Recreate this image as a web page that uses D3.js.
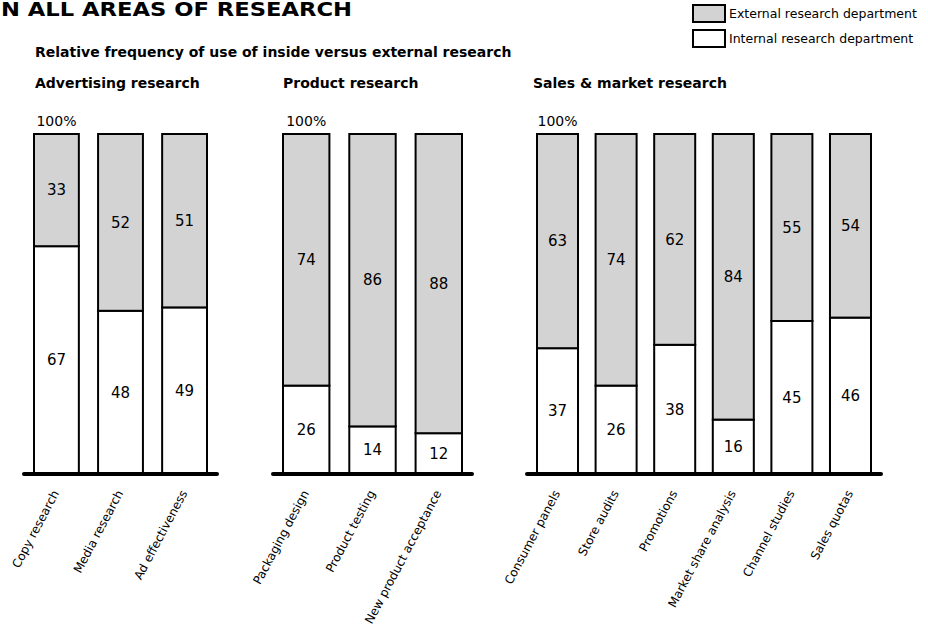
<!DOCTYPE html>
<html>
<head>
<meta charset="utf-8">
<script src="https://cdn.jsdelivr.net/npm/d3@7"></script>
<style>
  html, body { margin: 0; padding: 0; background: #fff; }
  svg { display: block; }
</style>
</head>
<body>
<script>
// ---- data -------------------------------------------------------------
const groupTitles = ["Advertising research", "Product research", "Sales & market research"];

const adCategories = ["Copy research", "Media research", "Ad effectiveness"];
const adInternal = [67, 48, 49];
const adExternal = [33, 52, 51];

const productCategories = ["Packaging design", "Product testing", "New product acceptance"];
const productInternal = [26, 14, 12];
const productExternal = [74, 86, 88];

const salesCategories = ["Consumer panels", "Store audits", "Promotions", "Market share analysis", "Channel studies", "Sales quotas"];
const salesInternal = [37, 26, 38, 16, 45, 46];
const salesExternal = [63, 74, 62, 84, 55, 54];

const seriesNames = ["External research department", "Internal research department"];
const topLabel = "100%";

// ---- layout -----------------------------------------------------------
const W = 928, H = 629;
const FONT = "'Comic Sans MS', 'DejaVu Sans', sans-serif";
const colors = { external: "#d3d3d3", internal: "#ffffff" };

const panels = [
  { title: groupTitles[0], cats: adCategories, internal: adInternal, external: adExternal, range: [34, 207], titleX: 35 },
  { title: groupTitles[1], cats: productCategories, internal: productInternal, external: productExternal, range: [283, 462], titleX: 283 },
  { title: groupTitles[2], cats: salesCategories, internal: salesInternal, external: salesExternal, range: [537, 871], titleX: 533 }
];

const svg = d3.select("body").append("svg")
  .attr("width", W).attr("height", H)
  .style("font-family", FONT);

const y = d3.scaleLinear().domain([0, 100]).range([474, 134]);

// headline and subtitle
svg.append("text")
  .attr("x", 1).attr("y", 16)
  .attr("font-size", 19.5).attr("font-weight", "bold")
  .attr("textLength", 351).attr("lengthAdjust", "spacingAndGlyphs")
  .text("N ALL AREAS OF RESEARCH");

svg.append("text")
  .attr("x", 35).attr("y", 57)
  .attr("font-size", 14).attr("font-weight", "bold")
  .text("Relative frequency of use of inside versus external research");

// ---- panels -----------------------------------------------------------
panels.forEach(p => {
  const rows = p.cats.map((c, i) => ({ cat: c, internal: p.internal[i], external: p.external[i] }));
  const x = d3.scaleBand().domain(p.cats).range(p.range).paddingInner(0.3).paddingOuter(0);
  const g = svg.append("g");

  g.append("text")
    .attr("x", p.titleX).attr("y", 88)
    .attr("font-size", 14).attr("font-weight", "bold")
    .text(p.title);

  g.append("text")
    .attr("x", x(p.cats[0]) + x.bandwidth() / 2).attr("y", 126)
    .attr("text-anchor", "middle").attr("font-size", 14)
    .text(topLabel);

  // internal (bottom) segments
  g.selectAll("rect.internal").data(rows).join("rect")
    .attr("class", "internal")
    .attr("x", d => x(d.cat)).attr("width", x.bandwidth())
    .attr("y", d => y(d.internal)).attr("height", d => y(0) - y(d.internal))
    .attr("fill", colors.internal).attr("stroke", "#000").attr("stroke-width", 2);

  // external (top) segments
  g.selectAll("rect.external").data(rows).join("rect")
    .attr("class", "external")
    .attr("x", d => x(d.cat)).attr("width", x.bandwidth())
    .attr("y", d => y(d.internal + d.external)).attr("height", d => y(d.internal) - y(d.internal + d.external))
    .attr("fill", colors.external).attr("stroke", "#000").attr("stroke-width", 2);

  // value labels centred in each segment
  g.selectAll("text.vi").data(rows).join("text")
    .attr("class", "vi")
    .attr("x", d => x(d.cat) + x.bandwidth() / 2)
    .attr("y", d => y(d.internal / 2)).attr("dy", "0.35em")
    .attr("text-anchor", "middle").attr("font-size", 15)
    .text(d => d.internal);

  g.selectAll("text.ve").data(rows).join("text")
    .attr("class", "ve")
    .attr("x", d => x(d.cat) + x.bandwidth() / 2)
    .attr("y", d => y(d.internal + d.external / 2)).attr("dy", "0.35em")
    .attr("text-anchor", "middle").attr("font-size", 15)
    .text(d => d.external);

  // category axis with rotated labels
  const axis = g.append("g")
    .attr("transform", `translate(0,${y(0)})`)
    .call(d3.axisBottom(x).tickSize(0).tickPadding(0));
  axis.select(".domain").remove();
  axis.selectAll(".tick text")
    .attr("x", 0).attr("y", 0).attr("dy", null)
    .attr("text-anchor", "end")
    .attr("font-family", FONT).attr("font-size", 12)
    .attr("fill", "#000")
    .attr("transform", "translate(3,19) rotate(-62)");

  // heavy baseline extending past the bars
  const [r0, r1] = x.range();
  g.append("line")
    .attr("x1", r0 - 10).attr("x2", r1 + 10)
    .attr("y1", y(0)).attr("y2", y(0))
    .attr("stroke", "#000").attr("stroke-width", 4).attr("stroke-linecap", "round");
});

// ---- legend -----------------------------------------------------------
const legend = svg.append("g");
const legendItems = [
  { name: seriesNames[0], fill: colors.external, y: 5 },
  { name: seriesNames[1], fill: colors.internal, y: 30 }
];
legend.selectAll("rect").data(legendItems).join("rect")
  .attr("x", 693).attr("y", d => d.y).attr("width", 32).attr("height", 17)
  .attr("fill", d => d.fill).attr("stroke", "#000").attr("stroke-width", 2);
legend.selectAll("text").data(legendItems).join("text")
  .attr("x", 729).attr("y", d => d.y + 9).attr("dy", "0.35em")
  .attr("font-size", 12.5)
  .text(d => d.name);
</script>
</body>
</html>
